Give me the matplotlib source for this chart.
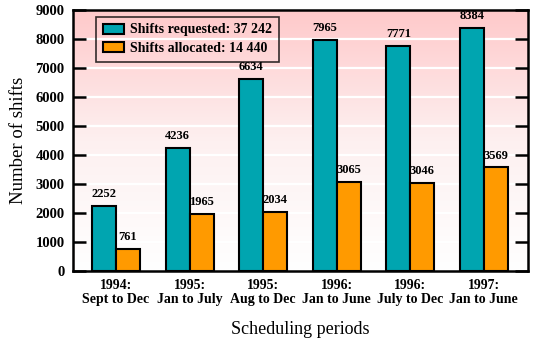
import matplotlib
matplotlib.use("Agg")
import matplotlib.pyplot as plt
import numpy as np
from matplotlib.colors import LinearSegmentedColormap

periods = ["1994:\nSept to Dec", "1995:\nJan to July", "1995:\nAug to Dec",
           "1996:\nJan to June", "1996:\nJuly to Dec", "1997:\nJan to June"]
requested = [2252, 4236, 6634, 7965, 7771, 8384]
allocated = [761, 1965, 2034, 3065, 3046, 3569]
yticks = [0, 1000, 2000, 3000, 4000, 5000, 6000, 7000, 8000, 9000]

plt.rcParams['font.family'] = ['Liberation Serif', 'DejaVu Serif']

fig = plt.figure(figsize=(5.48, 3.39), dpi=100)
ax = fig.add_axes([73/548, 1-271/339, (528-73)/548, (271-10)/339])

x = np.arange(len(periods))
w = 0.325
xlim = (-0.585, 5.6)
ax.set_xlim(*xlim)
ax.set_ylim(0, 9000)

cmap = LinearSegmentedColormap.from_list("bg", ["#ffffff", "#fdf0f0", "#ffc9ca"])
grad = np.linspace(0, 1, 256).reshape(-1, 1)
ax.imshow(grad, aspect='auto', cmap=cmap, origin='lower',
          extent=[xlim[0], xlim[1], 0, 9000], zorder=0)

for yv in yticks[1:-1]:
    ax.axhline(yv, color='white', lw=1.6, zorder=1)

b1 = ax.bar(x - w/2, requested, w, color='#00a5b0', edgecolor='black', lw=1.5,
            zorder=3, label='Shifts requested: 37 242')
b2 = ax.bar(x + w/2, allocated, w, color='#ff9a00', edgecolor='black', lw=1.5,
            zorder=3, label='Shifts allocated: 14 440')

for xi, v in zip(x - w/2, requested):
    ax.text(xi, v + 200, str(v), ha='center', va='bottom', fontsize=9,
            fontweight='bold', zorder=4)
for xi, v in zip(x + w/2, allocated):
    ax.text(xi, v + 200, str(v), ha='center', va='bottom', fontsize=9,
            fontweight='bold', zorder=4)

ax.set_xticks(x)
ax.set_xticklabels(periods, fontsize=10, fontweight='bold', linespacing=1.05)
ax.set_yticks(yticks)
ax.set_yticklabels([str(t) for t in yticks], fontsize=10.5, fontweight='bold')
ax.tick_params(axis='x', length=0, pad=6)
ax.tick_params(axis='y', direction='in', length=9.5, width=1.8, right=True, pad=6)

for s in ax.spines.values():
    s.set_linewidth(1.8)

ax.set_ylabel('Number of shifts', fontsize=13.5, labelpad=6)
ax.set_xlabel('Scheduling periods', fontsize=13, labelpad=11)

leg = ax.legend(loc='upper left', bbox_to_anchor=(0.05, 0.975), fancybox=False,
                edgecolor='black', facecolor='none',
                prop={'weight': 'bold', 'size': 10}, handlelength=1.55,
                handleheight=0.75, handletextpad=0.45, borderpad=0.5,
                labelspacing=0.4, borderaxespad=0)
leg.get_frame().set_linewidth(1.2)
leg.set_zorder(5)

fig.savefig('out.png', dpi=100)
